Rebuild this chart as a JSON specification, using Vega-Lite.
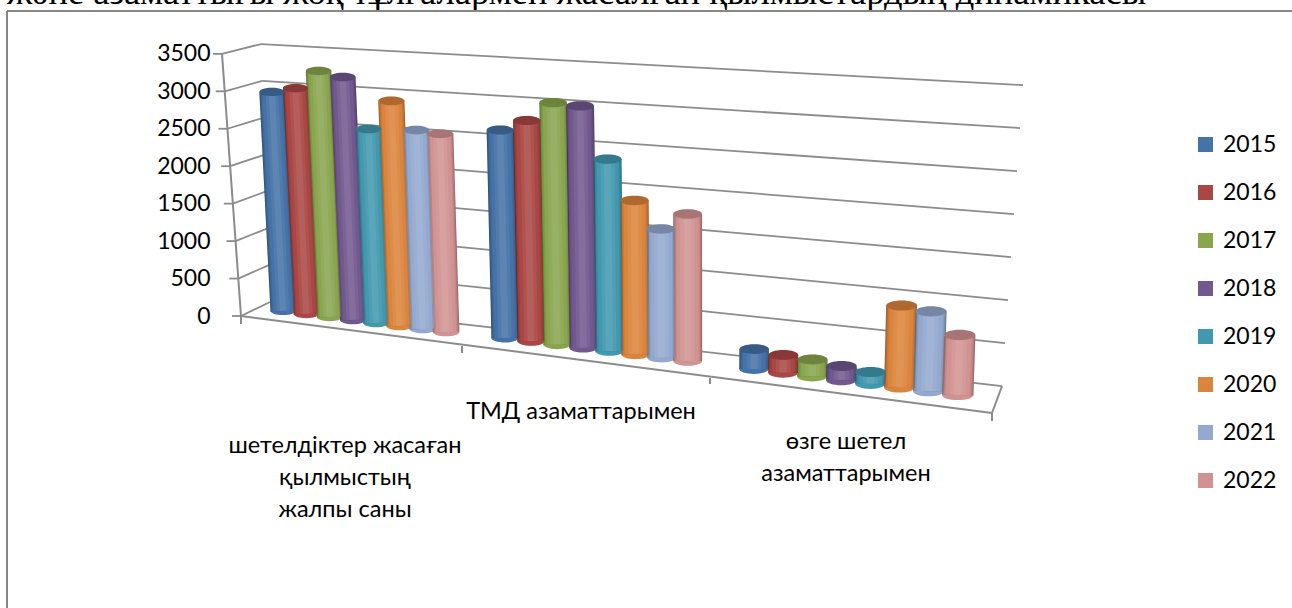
{
"$schema":"https://vega.github.io/schema/vega-lite/v6.json",
"width":1292,"height":608,"padding":0,"autosize":{"type":"none"},
"background":"white",
"config":{"view":{"stroke":null},"font":"Lato"},
"datasets":{
"bars":[
{"category":"шетелдіктер жасаған қылмыстың жалпы саны","year":"2015","value":2925},
{"category":"шетелдіктер жасаған қылмыстың жалпы саны","year":"2016","value":3015},
{"category":"шетелдіктер жасаған қылмыстың жалпы саны","year":"2017","value":3285},
{"category":"шетелдіктер жасаған қылмыстың жалпы саны","year":"2018","value":3245},
{"category":"шетелдіктер жасаған қылмыстың жалпы саны","year":"2019","value":2590},
{"category":"шетелдіктер жасаған қылмыстың жалпы саны","year":"2020","value":3005},
{"category":"шетелдіктер жасаған қылмыстың жалпы саны","year":"2021","value":2655},
{"category":"шетелдіктер жасаған қылмыстың жалпы саны","year":"2022","value":2645},
{"category":"ТМД азаматтарымен","year":"2015","value":2600},
{"category":"ТМД азаматтарымен","year":"2016","value":2760},
{"category":"ТМД азаматтарымен","year":"2017","value":3025},
{"category":"ТМД азаматтарымен","year":"2018","value":3025},
{"category":"ТМД азаматтарымен","year":"2019","value":2400},
{"category":"ТМД азаматтарымен","year":"2020","value":1925},
{"category":"ТМД азаматтарымен","year":"2021","value":1610},
{"category":"ТМД азаматтарымен","year":"2022","value":1840},
{"category":"өзге шетел азаматтарымен","year":"2015","value":235},
{"category":"өзге шетел азаматтарымен","year":"2016","value":210},
{"category":"өзге шетел азаматтарымен","year":"2017","value":200},
{"category":"өзге шетел азаматтарымен","year":"2018","value":165},
{"category":"өзге шетел азаматтарымен","year":"2019","value":140},
{"category":"өзге шетел азаматтарымен","year":"2020","value":965},
{"category":"өзге шетел азаматтарымен","year":"2021","value":940},
{"category":"өзге шетел азаматтарымен","year":"2022","value":705}
],
"ticks":[{"tick":0},{"tick":500},{"tick":1000},{"tick":1500},{"tick":2000},{"tick":2500},{"tick":3000},{"tick":3500}],
"edges":[{"edge":"yAxis"},{"edge":"front"},{"edge":"right"},{"edge":"tick1"},{"edge":"tick2"},{"edge":"tick3"},{"edge":"tick4"}],
"frame":[{"side":"left"},{"side":"top"}],
"heading":[{"heading":"және азаматтығы жоқ тұлғалармен жасалған қылмыстардың динамикасы"}],
"labels":[
{"g":0,"label":"шетелдіктер жасаған\nқылмыстың\nжалпы саны"},
{"g":1,"label":"ТМД азаматтарымен"},
{"g":2,"label":"өзге шетел\nазаматтарымен"}
]
},
"encoding":{
"x":{"field":"x","type":"quantitative","scale":{"domain":[0,1292],"nice":false,"zero":false},"axis":null},
"y":{"field":"y","type":"quantitative","scale":{"domain":[-3898.5,4219],"nice":false,"zero":false},
 "axis":{"values":[0,500,1000,1500,2000,2500,3000,3500],"format":"d","title":null,"domain":false,"ticks":false,"grid":false,"offset":-210,"labelPadding":0,"labelFont":"Lato","labelFontSize":23,"labelColor":"black"}}
},
"layer":[
{"data":{"name":"heading"},
 "transform":[{"calculate":"7","as":"x"},{"calculate":"4165","as":"y"}],
 "mark":{"type":"text","align":"left","baseline":"alphabetic","font":"Liberation Serif","fontSize":36.5,"color":"black"},
 "encoding":{"text":{"field":"heading"}}},
{"data":{"name":"frame"},
 "transform":[
 {"calculate":"7","as":"x"},{"calculate":"4072","as":"y"},
 {"calculate":"datum.side=='left'?7:1292","as":"x2"},{"calculate":"datum.side=='left'?-3898.5:4072","as":"y2"}],
 "mark":{"type":"rule","color":"#868686","strokeWidth":2},
 "encoding":{"x2":{"field":"x2"},"y2":{"field":"y2"}}},
{"data":{"name":"ticks"},
 "transform":[
 {"calculate":"270-0.00257*datum.tick","as":"x"},{"calculate":"187+0.984*datum.tick","as":"y"},
 {"calculate":"1002+0.006*datum.tick","as":"x2"},{"calculate":"-935+1.148*datum.tick","as":"y2"}],
 "mark":{"type":"rule","color":"#8c8c8c","strokeWidth":1.8},
 "encoding":{"x2":{"field":"x2"},"y2":{"field":"y2"}}},
{"data":{"name":"ticks"},
 "transform":[
 {"calculate":"241-0.00543*datum.tick","as":"x"},{"calculate":"datum.tick","as":"y"},
 {"calculate":"270-0.00257*datum.tick","as":"x2"},{"calculate":"187+0.984*datum.tick","as":"y2"}],
 "mark":{"type":"rule","color":"#8c8c8c","strokeWidth":1.8},
 "encoding":{"x2":{"field":"x2"},"y2":{"field":"y2"}}},
{"data":{"name":"ticks"},
 "transform":[
 {"calculate":"232-0.00543*datum.tick","as":"x"},{"calculate":"datum.tick","as":"y"},
 {"calculate":"241-0.00543*datum.tick","as":"x2"},{"calculate":"datum.tick","as":"y2"}],
 "mark":{"type":"rule","color":"#8c8c8c","strokeWidth":1.8},
 "encoding":{"x2":{"field":"x2"},"y2":{"field":"y2"}}},
{"data":{"name":"edges"},
 "transform":[
 {"calculate":"{yAxis:241,front:241,right:992,tick1:241,tick2:462,tick3:710,tick4:992}[datum.edge]","as":"x"},
 {"calculate":"{yAxis:0,front:0,right:-1295,tick1:0,tick2:-400,tick3:-828,tick4:-1295}[datum.edge]","as":"y"},
 {"calculate":"{yAxis:222,front:992,right:1002,tick1:241,tick2:462,tick3:710,tick4:992}[datum.edge]","as":"x2"},
 {"calculate":"{yAxis:3500,front:-1295,right:-935,tick1:-107,tick2:-494,tick3:-908,tick4:-1402}[datum.edge]","as":"y2"}],
 "mark":{"type":"rule","color":"#8c8c8c","strokeWidth":2},
 "encoding":{"x2":{"field":"x2"},"y2":{"field":"y2"}}},
{"data":{"name":"bars"},
 "transform":[
 {"calculate":"indexof(['шетелдіктер жасаған қылмыстың жалпы саны','ТМД азаматтарымен','өзге шетел азаматтарымен'],datum.category)","as":"g"},
 {"calculate":"toNumber(datum.year)-2015","as":"i"},
 {"calculate":"[283,505,754][datum.g]+[23.3,26.1,29.1][datum.g]*datum.i","as":"x"},
 {"calculate":"[67,-294,-708][datum.g]-[40,44,49.4][datum.g]*datum.i","as":"y"},
 {"calculate":"[1,1.068,1.135][datum.g]","as":"k"},
 {"calculate":"datum.y+datum.value*datum.k","as":"yt"},
 {"calculate":"datum.x+(datum.x-690)*0.00000936*datum.value*datum.k","as":"xt"},
 {"calculate":"25+(datum.x-283)*0.0095","as":"w"},
 {"calculate":"datum.w*datum.w","as":"s"},
 {"calculate":"datum.w*0.94","as":"w1"},
 {"calculate":"datum.w*0.86","as":"w2"},
 {"calculate":"datum.w*0.76","as":"w2b"},
 {"calculate":"datum.w*0.5","as":"w3"},
 {"calculate":"datum.w*0.25","as":"w4"}
 ],
 "layer":[
 {"mark":{"type":"point","filled":true,"opacity":1,"shape":"M-1,0A1,0.33,0,1,1,1,0A1,0.33,0,1,1,-1,0Z"},
  "encoding":{"size":{"field":"s","type":"quantitative","scale":null,"legend":null},
  "color":{"field":"year","type":"nominal",
   "scale":{"domain":["2015","2016","2017","2018","2019","2020","2021","2022"],"range":["#4572A7","#AA4643","#89A54E","#71588F","#4198AF","#DB843D","#93A9CF","#D19392"]},
   "legend":{"orient":"none","legendX":1194,"legendY":133,"title":null,"symbolType":"square","symbolSize":225,"symbolOpacity":1,"labelFont":"Lato","labelFontSize":23,"labelColor":"black","labelOffset":6,"rowPadding":24,"symbolStrokeWidth":0}}}},
 {"mark":{"type":"rule"},
  "encoding":{"x2":{"field":"xt"},"y2":{"field":"yt"},"size":{"field":"w","type":"quantitative","scale":null,"legend":null},
  "color":{"field":"year","type":"nominal","legend":null}}},
 {"mark":{"type":"rule","color":"black","opacity":0.28},
  "encoding":{"x2":{"field":"xt"},"y2":{"field":"yt"},"size":{"field":"w","type":"quantitative","scale":null,"legend":null}}},
 {"mark":{"type":"rule","opacity":0.45},
  "encoding":{"x2":{"field":"xt"},"y2":{"field":"yt"},"size":{"field":"w1","type":"quantitative","scale":null,"legend":null},
  "color":{"field":"year","type":"nominal","legend":null}}},
 {"mark":{"type":"rule","opacity":0.55},
  "encoding":{"x2":{"field":"xt"},"y2":{"field":"yt"},"size":{"field":"w2","type":"quantitative","scale":null,"legend":null},
  "color":{"field":"year","type":"nominal","legend":null}}},
 {"mark":{"type":"rule","opacity":1},
  "encoding":{"x2":{"field":"xt"},"y2":{"field":"yt"},"size":{"field":"w2b","type":"quantitative","scale":null,"legend":null},
  "color":{"field":"year","type":"nominal","legend":null}}},
 {"mark":{"type":"rule","color":"white","opacity":0.07},
  "encoding":{"x2":{"field":"xt"},"y2":{"field":"yt"},"size":{"field":"w3","type":"quantitative","scale":null,"legend":null}}},
 {"mark":{"type":"rule","color":"white","opacity":0.07},
  "encoding":{"x2":{"field":"xt"},"y2":{"field":"yt"},"size":{"field":"w4","type":"quantitative","scale":null,"legend":null}}},
 {"mark":{"type":"point","filled":true,"opacity":1,"shape":"M-1,0A1,0.33,0,1,1,1,0A1,0.33,0,1,1,-1,0Z"},
  "encoding":{"x":{"field":"xt","type":"quantitative","scale":{"domain":[0,1292],"nice":false,"zero":false},"axis":null},
  "y":{"field":"yt","type":"quantitative","scale":{"domain":[-3898.5,4219],"nice":false,"zero":false}},
  "size":{"field":"s","type":"quantitative","scale":null,"legend":null},
  "color":{"field":"year","type":"nominal","legend":null}}},
 {"mark":{"type":"point","filled":true,"color":"black","opacity":0.2,"shape":"M-1,0A1,0.33,0,1,1,1,0A1,0.33,0,1,1,-1,0Z"},
  "encoding":{"x":{"field":"xt","type":"quantitative","scale":{"domain":[0,1292],"nice":false,"zero":false},"axis":null},
  "y":{"field":"yt","type":"quantitative","scale":{"domain":[-3898.5,4219],"nice":false,"zero":false}},
  "size":{"field":"s","type":"quantitative","scale":null,"legend":null}}}
 ]},
{"data":{"name":"labels"},
 "transform":[
 {"calculate":"[345,581,846][datum.g]","as":"x"},
 {"calculate":"[-1575,-1120,-1520][datum.g]","as":"y"}],
 "mark":{"type":"text","align":"center","baseline":"top","lineBreak":"\n","lineHeight":32,"font":"Lato","fontSize":23.5,"color":"black"},
 "encoding":{"text":{"field":"label"}}}
]
}
